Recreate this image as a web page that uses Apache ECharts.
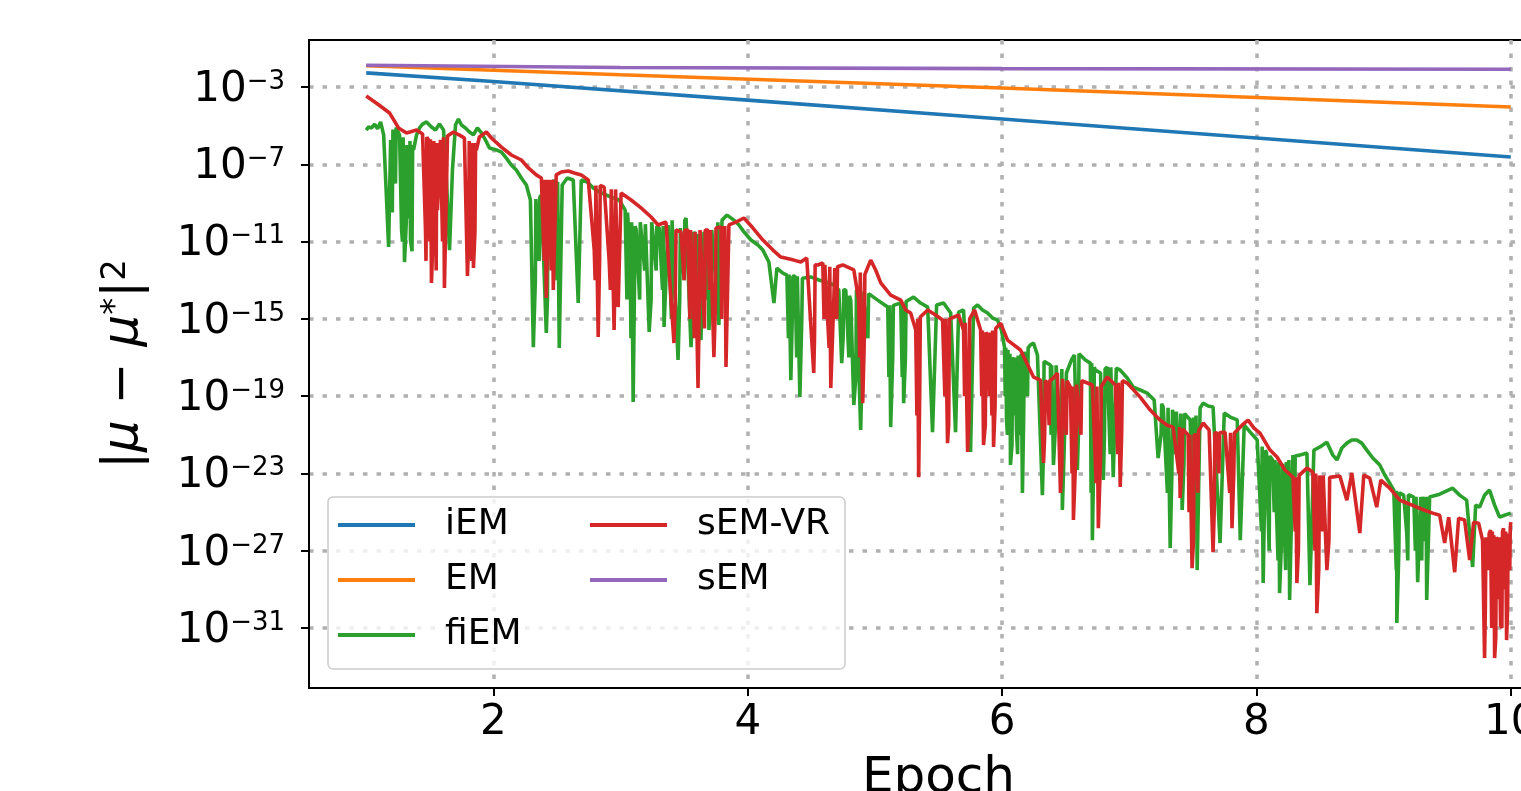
<!DOCTYPE html>
<html><head><meta charset="utf-8">
<script src="https://cdn.jsdelivr.net/npm/echarts@6/dist/echarts.min.js"></script>
<style>html,body{margin:0;padding:0;background:#fff}#c{width:1521px;height:791px}</style>
</head><body><div id="c"></div>
<script>
// ---- data (y values are log10 of |mu - mu*|^2) ----
const seriesNames = ['iEM', 'EM', 'fiEM', 'sEM-VR', 'sEM'];
const seriesColors = ['#1f77b4', '#ff7f0e', '#2ca02c', '#d62728', '#9467bd'];
const xTicks = [2, 4, 6, 8, 10];
const yTickExponents = [-31, -27, -23, -19, -15, -11, -7, -3];

const iEM = [[1, -2.27], [2, -2.72], [4, -3.68], [6, -4.66], [8, -5.64], [10, -6.62]];
const EM = [[1, -1.90], [3, -2.37], [6, -3.05], [10, -4.04]];
const sEM = [[1, -1.88], [3, -1.99], [6, -2.05], [10, -2.08]];

const sEMVR = [
[1.000,-3.47],[1.089,-3.88],[1.184,-4.35],[1.254,-5.12],[1.317,-5.38],[1.396,-5.23],[1.443,-5.43],[1.466,-10.40],[1.490,-5.74],[1.513,-13.14],
[1.537,-6.26],[1.560,-9.37],[1.584,-5.74],[1.615,-13.40],[1.639,-5.54],[1.686,-5.33],[1.733,-5.49],[1.772,-5.64],[1.796,-12.78],[1.819,-5.74],
[1.843,-12.37],[1.866,-6.26],[1.890,-5.59],[1.945,-5.33],[1.984,-5.64],[2.063,-6.11],[2.141,-6.52],[2.220,-6.78],[2.275,-7.19],[2.337,-7.55],
[2.377,-7.71],[2.416,-13.92],[2.440,-7.81],[2.471,-13.51],[2.494,-7.55],[2.534,-7.40],[2.589,-7.35],[2.636,-7.45],[2.691,-7.55],[2.746,-7.81],
[2.793,-11.44],[2.824,-15.94],[2.848,-8.07],[2.871,-8.18],[2.910,-11.96],[2.949,-15.58],[2.965,-8.33],[2.981,-14.39],[3.004,-8.49],[3.083,-8.85],
[3.161,-9.26],[3.240,-9.73],[3.295,-10.14],[3.357,-9.99],[3.420,-16.25],[3.444,-10.30],[3.475,-10.50],[3.530,-10.40],[3.569,-12.99],[3.609,-18.58],
[3.632,-10.50],[3.687,-10.40],[3.734,-16.98],[3.758,-10.30],[3.789,-10.25],[3.829,-17.49],[3.852,-10.14],[3.907,-9.99],[3.970,-9.78],[4.041,-10.30],
[4.119,-10.92],[4.198,-11.44],[4.260,-11.80],[4.362,-11.96],[4.417,-12.06],[4.464,-11.85],[4.519,-17.80],[4.551,-12.21],[4.590,-12.11],[4.653,-18.58],
[4.685,-12.37],[4.747,-12.21],[4.834,-12.47],[4.873,-14.03],[4.904,-19.36],[4.936,-12.73],[4.967,-11.96],[5.006,-12.47],[5.046,-13.14],[5.124,-13.77],
[5.203,-14.03],[5.242,-14.54],[5.281,-14.70],[5.321,-15.58],[5.344,-23.19],[5.368,-14.80],[5.415,-14.54],[5.477,-14.80],[5.532,-15.06],[5.571,-21.43],
[5.603,-14.96],[5.658,-14.80],[5.697,-15.58],[5.729,-21.89],[5.752,-14.96],[5.784,-14.54],[5.831,-15.58],[5.854,-21.53],[5.886,-15.84],[5.933,-21.63],
[5.964,-15.58],[5.988,-15.22],[6.043,-16.10],[6.145,-16.61],[6.247,-18.01],[6.302,-18.17],[6.326,-22.46],[6.357,-18.32],[6.404,-18.06],[6.435,-17.80],
[6.459,-24.01],[6.490,-18.06],[6.537,-18.53],[6.561,-25.41],[6.592,-18.42],[6.639,-18.17],[6.710,-18.42],[6.757,-25.83],[6.788,-18.53],[6.827,-18.01],
[6.890,-18.42],[6.929,-23.70],[6.953,-18.17],[6.984,-18.32],[7.086,-19.05],[7.165,-19.72],[7.243,-20.24],[7.298,-20.50],[7.345,-20.60],[7.400,-24.27],
[7.424,-20.75],[7.463,-21.01],[7.494,-27.90],[7.526,-21.01],[7.581,-20.39],[7.628,-20.75],[7.659,-27.07],[7.691,-20.91],[7.753,-20.86],[7.808,-25.83],
[7.840,-20.86],[7.887,-20.50],[7.934,-20.24],[7.981,-20.65],[8.028,-20.91],[8.107,-21.79],[8.162,-22.15],[8.224,-22.82],[8.287,-23.19],[8.318,-28.67],
[8.350,-23.08],[8.397,-22.72],[8.444,-22.93],[8.475,-30.23],[8.507,-23.13],[8.554,-28.00],[8.585,-23.24],[8.656,-23.13],[8.711,-24.38],[8.750,-22.98],
[8.813,-26.08],[8.844,-23.08],[8.891,-23.24],[8.946,-24.74],[8.978,-23.34],[9.048,-23.76],[9.127,-24.38],[9.205,-24.59],[9.260,-24.74],[9.323,-24.90],
[9.386,-25.05],[9.441,-25.16],[9.480,-26.60],[9.512,-25.26],[9.559,-28.11],[9.590,-25.31],[9.637,-25.41],[9.677,-27.48],[9.708,-25.52],[9.747,-25.57],
[9.778,-26.45],[9.794,-32.55],[9.818,-26.29],[9.841,-25.93],[9.873,-32.55],[9.896,-26.45],[9.920,-30.85],[9.943,-25.83],[9.967,-31.62],[9.982,-26.19],
[10.000,-25.52]
];

// extra dips (dip, then back to the envelope)
const sEMVRDips = [
[1.470,-12.0],[1.476,-5.6],[1.500,-11.0],[1.505,-5.7],[1.527,-10.2],[1.531,-5.8],[1.550,-12.5],[1.555,-5.9],[1.600,-11.0],[1.607,-5.6],
[1.805,-11.0],[1.810,-5.8],[1.830,-12.0],[1.836,-5.9],[1.855,-10.5],[1.860,-5.9],
[2.400,-12.0],[2.405,-7.8],[2.428,-10.0],[2.433,-7.8],[2.455,-12.5],[2.462,-7.8],
[2.800,-13.0],[2.806,-8.1],[2.835,-12.0],[2.840,-8.1],[2.920,-13.5],[2.927,-8.3],[2.957,-12.5],[2.961,-8.3],
[3.430,-14.0],[3.436,-10.4],[3.500,-13.0],[3.506,-10.4],[3.545,-15.0],[3.550,-10.4],[3.580,-16.0],[3.586,-10.5],[3.620,-14.0],[3.625,-10.4],
[3.660,-15.5],[3.666,-10.4],[3.700,-13.5],[3.706,-10.4],[3.745,-14.5],[3.750,-10.3],[3.795,-15.0],[3.800,-10.2],[3.815,-13.0],[3.820,-10.2],
[4.525,-16.0],[4.530,-12.2],[4.600,-15.0],[4.606,-12.2],[4.640,-16.5],[4.645,-12.3],[4.700,-15.0],[4.706,-12.3],[4.880,-17.0],[4.885,-12.6],
[4.915,-16.5],[4.921,-12.7],
[5.330,-20.0],[5.336,-15.0],[5.352,-19.0],[5.357,-14.9],[5.550,-19.0],[5.556,-15.0],[5.580,-20.5],[5.586,-15.0],[5.705,-19.0],[5.711,-15.2],
[5.740,-20.0],[5.745,-15.0],[5.840,-19.0],[5.845,-15.6],[5.868,-20.5],[5.873,-15.7],[5.900,-19.0],[5.906,-15.7],[5.920,-20.0],[5.925,-15.6],
[5.945,-19.5],[5.950,-15.5],
[6.335,-21.0],[6.340,-18.2],[6.370,-20.5],[6.375,-18.2],[6.470,-22.5],[6.475,-18.1],[6.505,-21.0],[6.511,-18.2],[6.550,-23.0],[6.555,-18.5],
[6.580,-22.0],[6.586,-18.4],[6.620,-21.0],[6.626,-18.2],[6.740,-23.5],[6.746,-18.5],[6.775,-22.0],[6.780,-18.5],[6.910,-22.0],[6.916,-18.3],
[6.940,-21.0],[6.946,-18.2],
[7.390,-23.0],[7.395,-20.6],[7.415,-22.5],[7.420,-20.7],[7.470,-25.0],[7.476,-21.0],[7.505,-26.5],[7.510,-21.0],[7.540,-24.0],[7.545,-20.8],
[7.668,-25.0],[7.673,-20.9],[7.705,-23.0],[7.710,-20.9],[7.790,-24.0],[7.796,-20.9],[7.822,-23.0],[7.827,-20.9],
[8.305,-26.0],[8.310,-23.2],[8.330,-27.0],[8.336,-23.1],[8.460,-27.0],[8.466,-23.0],[8.490,-28.0],[8.496,-23.1],[8.520,-26.0],[8.525,-23.1],
[8.570,-26.5],[8.576,-23.2],
[9.800,-30.0],[9.805,-26.3],[9.825,-28.0],[9.830,-26.1],[9.850,-31.0],[9.855,-26.0],[9.862,-29.0],[9.867,-26.2],[9.882,-31.5],[9.887,-26.3],
[9.905,-29.5],[9.910,-26.3],[9.930,-31.0],[9.935,-26.0],[9.955,-29.0],[9.960,-26.0],[9.975,-30.0],[9.979,-26.1],[9.992,-28.0],[9.996,-25.8]
];

const fiEM = [
[1.000,-5.23],[1.019,-5.07],[1.042,-5.12],[1.066,-4.92],[1.089,-5.17],[1.113,-4.81],[1.137,-5.48],[1.160,-8.85],[1.176,-11.28],[1.192,-5.74],
[1.215,-5.12],[1.239,-5.02],[1.262,-5.48],[1.278,-10.40],[1.301,-12.06],[1.325,-8.85],[1.348,-10.92],[1.372,-6.26],[1.396,-5.48],[1.419,-5.12],
[1.443,-4.92],[1.474,-4.81],[1.513,-5.07],[1.545,-5.23],[1.576,-4.92],[1.608,-5.23],[1.631,-7.81],[1.655,-11.44],[1.678,-7.30],[1.702,-4.97],
[1.725,-4.66],[1.749,-4.97],[1.780,-5.12],[1.812,-5.33],[1.843,-5.48],[1.874,-5.12],[1.906,-5.38],[1.937,-5.74],[1.969,-6.16],[2.024,-6.26],
[2.063,-6.37],[2.102,-6.68],[2.141,-7.04],[2.180,-7.30],[2.220,-7.71],[2.259,-8.07],[2.291,-8.85],[2.314,-16.46],[2.337,-8.85],[2.377,-8.59],
[2.416,-15.73],[2.440,-8.33],[2.479,-7.81],[2.518,-16.51],[2.541,-8.07],[2.581,-7.71],[2.628,-7.81],[2.667,-14.18],[2.691,-7.81],[2.738,-7.92],
[2.785,-8.23],[2.832,-8.43],[2.887,-8.59],[2.942,-8.74],[2.989,-8.85],[3.036,-9.37],[3.075,-11.96],[3.099,-19.30],[3.123,-10.40],[3.161,-9.99],
[3.201,-10.14],[3.225,-15.68],[3.257,-9.99],[3.304,-10.30],[3.342,-15.42],[3.374,-10.14],[3.413,-9.89],[3.452,-17.13],[3.484,-10.40],[3.515,-9.78],
[3.554,-16.46],[3.589,-10.66],[3.632,-16.10],[3.656,-10.50],[3.695,-15.58],[3.726,-10.40],[3.773,-15.32],[3.798,-9.89],[3.837,-9.63],[3.891,-9.89],
[3.931,-10.14],[3.970,-10.50],[4.025,-10.92],[4.080,-11.18],[4.119,-11.44],[4.166,-12.06],[4.206,-14.18],[4.229,-12.37],[4.276,-12.63],[4.308,-12.73],
[4.339,-18.17],[4.372,-12.78],[4.410,-19.04],[4.441,-12.88],[4.496,-12.83],[4.559,-12.99],[4.614,-13.09],[4.677,-13.25],[4.716,-13.51],[4.739,-17.29],
[4.771,-13.51],[4.810,-14.03],[4.834,-19.46],[4.865,-13.51],[4.888,-20.75],[4.920,-13.61],[4.967,-13.77],[5.022,-14.03],[5.077,-14.28],[5.101,-14.39],
[5.124,-20.60],[5.155,-14.28],[5.203,-14.18],[5.226,-19.36],[5.257,-14.03],[5.304,-13.87],[5.359,-14.18],[5.415,-14.39],[5.453,-20.86],[5.485,-14.28],
[5.540,-14.18],[5.596,-14.70],[5.634,-20.86],[5.658,-14.65],[5.697,-14.54],[5.752,-21.89],[5.776,-14.44],[5.807,-14.28],[5.846,-14.54],[5.886,-14.70],
[5.925,-14.96],[5.964,-15.06],[5.995,-15.58],[6.019,-16.46],[6.035,-20.23],[6.050,-16.61],[6.066,-22.56],[6.090,-17.13],[6.113,-20.75],[6.137,-16.87],
[6.160,-24.01],[6.184,-16.61],[6.223,-16.35],[6.247,-16.25],[6.278,-16.87],[6.317,-24.12],[6.341,-17.23],[6.380,-17.39],[6.404,-22.56],[6.435,-17.49],
[6.474,-24.89],[6.506,-17.80],[6.545,-17.13],[6.569,-16.87],[6.592,-22.82],[6.616,-16.77],[6.655,-17.13],[6.694,-17.29],[6.710,-26.45],[6.734,-17.65],
[6.774,-17.80],[6.796,-23.34],[6.827,-17.49],[6.874,-23.19],[6.898,-17.54],[6.929,-17.65],[6.984,-18.06],[7.031,-18.53],[7.086,-18.68],[7.141,-18.84],
[7.196,-19.20],[7.227,-22.20],[7.267,-19.56],[7.322,-26.86],[7.353,-19.72],[7.377,-19.87],[7.416,-24.89],[7.447,-19.98],[7.479,-20.23],[7.534,-28.00],
[7.557,-19.61],[7.581,-19.36],[7.620,-19.51],[7.659,-19.56],[7.714,-26.60],[7.747,-19.87],[7.794,-20.08],[7.849,-20.23],[7.873,-26.45],[7.904,-20.50],
[7.951,-20.86],[8.006,-21.27],[8.053,-28.67],[8.080,-21.94],[8.127,-22.30],[8.182,-29.19],[8.214,-22.56],[8.261,-29.55],[8.287,-22.05],[8.342,-22.05],
[8.397,-21.94],[8.421,-28.78],[8.452,-21.79],[8.499,-21.63],[8.554,-21.38],[8.601,-22.05],[8.633,-22.30],[8.672,-21.68],[8.711,-21.43],[8.750,-21.27],
[8.789,-21.27],[8.828,-21.43],[8.868,-21.79],[8.915,-22.20],[8.970,-22.56],[9.009,-23.08],[9.048,-23.50],[9.080,-23.86],[9.104,-30.74],[9.127,-24.01],
[9.158,-24.12],[9.182,-26.08],[9.205,-24.12],[9.237,-24.22],[9.268,-28.62],[9.292,-24.22],[9.339,-29.55],[9.362,-24.22],[9.441,-24.07],[9.543,-23.76],
[9.598,-24.12],[9.653,-24.38],[9.700,-27.84],[9.724,-24.64],[9.755,-24.74],[9.794,-24.12],[9.833,-23.86],[9.873,-24.64],[9.912,-25.26],[9.951,-25.16],
[10.000,-25.05]
];

// extra dips (dip, then back to the envelope)
const fiEMDips = [
[1.205,-9.5],[1.210,-5.2],[1.230,-8.0],[1.235,-5.1],[1.285,-11.0],[1.290,-5.6],[1.315,-10.0],[1.320,-6.0],[1.340,-9.8],[1.344,-5.8],
[1.360,-11.5],[1.365,-6.0],
[2.330,-13.0],[2.334,-8.8],[2.360,-12.0],[2.365,-8.7],[2.425,-14.0],[2.430,-8.4],[2.500,-13.0],[2.505,-7.9],
[3.050,-14.0],[3.055,-9.5],[3.082,-16.0],[3.087,-10.0],[3.110,-13.0],[3.115,-10.2],[3.150,-14.0],[3.155,-10.0],[3.190,-12.5],[3.195,-10.1],
[3.240,-14.0],[3.245,-10.0],[3.280,-12.5],[3.285,-10.2],[3.330,-13.5],[3.335,-10.2],[3.400,-15.0],[3.405,-9.9],[3.465,-14.0],[3.470,-10.3],
[3.500,-13.0],[3.505,-9.9],[3.570,-14.5],[3.575,-10.5],[3.605,-15.0],[3.610,-10.6],[3.680,-14.0],[3.685,-10.5],[3.712,-13.0],[3.717,-10.4],
[3.760,-14.0],[3.765,-10.0],
[4.320,-16.0],[4.325,-12.7],[4.350,-15.0],[4.355,-12.8],[4.385,-17.0],[4.390,-12.8],[4.425,-15.0],[4.430,-12.9],
[4.750,-16.0],[4.755,-13.5],[4.795,-17.0],[4.800,-13.8],[4.850,-18.0],[4.855,-13.5],[4.900,-17.5],[4.905,-13.6],[4.945,-16.0],[4.950,-13.7],
[5.110,-18.0],[5.115,-14.3],[5.140,-17.0],[5.145,-14.3],[5.215,-18.0],[5.220,-14.2],[5.240,-17.0],[5.245,-14.1],
[6.025,-19.0],[6.029,-16.5],[6.042,-21.0],[6.046,-16.6],[6.058,-19.5],[6.062,-16.8],[6.078,-21.5],[6.082,-17.0],[6.100,-20.0],[6.105,-17.0],
[6.122,-22.0],[6.127,-16.9],[6.145,-21.0],[6.150,-16.8],[6.170,-20.0],[6.175,-16.7],[6.200,-19.0],[6.205,-16.5],
[6.325,-22.0],[6.330,-17.2],[6.385,-21.0],[6.390,-17.4],[6.420,-20.5],[6.425,-17.4],[6.465,-22.0],[6.470,-17.6],[6.600,-21.0],[6.605,-16.8],
[6.700,-24.0],[6.705,-17.3],[6.720,-22.5],[6.725,-17.5],[6.805,-21.0],[6.810,-17.6],[6.850,-22.0],[6.855,-17.5],
[7.250,-21.0],[7.255,-19.4],[7.300,-24.0],[7.305,-19.6],[7.335,-23.0],[7.340,-19.7],[7.365,-22.0],[7.370,-19.8],[7.400,-23.5],[7.405,-19.9],
[7.430,-22.5],[7.435,-19.9],[7.500,-25.0],[7.505,-20.1],[7.520,-26.0],[7.525,-20.0],
[8.040,-26.0],[8.045,-21.6],[8.065,-24.0],[8.070,-21.8],[8.100,-27.0],[8.105,-22.1],[8.140,-25.0],[8.145,-22.3],[8.170,-27.5],[8.175,-22.4],
[8.200,-26.0],[8.205,-22.5],[8.230,-28.0],[8.235,-22.4],[8.250,-27.0],[8.255,-22.3],[8.300,-25.0],[8.305,-22.1],
[9.100,-28.0],[9.102,-23.9],[9.120,-27.0],[9.124,-24.0],[9.190,-27.5],[9.195,-24.1],[9.250,-27.0],[9.255,-24.2],[9.300,-27.5],[9.305,-24.2],
[9.330,-26.5],[9.334,-24.2]
];

const byEpoch = (a, b) => a[0] - b[0];
const seriesData = [
  iEM,
  EM,
  fiEM.concat(fiEMDips).sort(byEpoch),
  sEMVR.concat(sEMVRDips).sort(byEpoch),
  sEM
];

// ---- chart ----
const FONT = 'DejaVu Sans';
const chart = echarts.init(document.getElementById('c'), null, {renderer: 'canvas'});
const gridLine = {show: true, lineStyle: {color: '#b0b0b0', width: 3.5, type: [4.5, 9]}};

chart.setOption({
  animation: false,
  backgroundColor: '#ffffff',
  textStyle: {fontFamily: FONT},
  grid: {
    left: 309, top: 40, width: 1259, height: 648,
    containLabel: false, outerBoundsMode: 'none',
    show: true, borderColor: '#000', borderWidth: 2, backgroundColor: 'transparent'
  },
  legend: {
    data: seriesNames,
    orient: 'vertical',
    left: 328, top: 497,
    height: 170,
    itemGap: 5,
    itemWidth: 77, itemHeight: 4,
    icon: 'rect',
    padding: [3, 8, 9, 10],
    backgroundColor: 'rgba(255,255,255,0.8)',
    borderColor: '#cccccc', borderWidth: 1.5, borderRadius: 5,
    textStyle: {fontFamily: FONT, fontSize: 36, color: '#000', lineHeight: 50, width: 140, padding: [0, 0, 0, 25]}
  },
  xAxis: {
    type: 'value', min: 0.55, max: 10.45,
    name: 'Epoch', nameLocation: 'middle', nameGap: 66,
    nameTextStyle: {fontFamily: FONT, fontSize: 50, lineHeight: 50, color: '#000'},
    axisLine: {show: true, onZero: false, lineStyle: {color: '#000', width: 2}},
    axisTick: {show: true, inside: false, length: 8, lineStyle: {color: '#000', width: 2}, customValues: xTicks},
    axisLabel: {fontFamily: FONT, fontSize: 42, lineHeight: 42, color: '#000', margin: 14, customValues: xTicks},
    splitLine: gridLine
  },
  yAxis: {
    type: 'value', min: -34.1, max: -0.57,
    name: '{n||}{m|\u03bc}{n| \u2212 }{m|\u03bc}{s|*}{n||}{s|2}',
    nameLocation: 'middle', nameRotate: 90, nameGap: 160,
    nameTextStyle: {
      fontFamily: FONT, fontSize: 50, color: '#000',
      rich: {
        n: {fontFamily: FONT, fontSize: 50, lineHeight: 50, color: '#000', verticalAlign: 'bottom'},
        m: {fontFamily: FONT, fontSize: 50, lineHeight: 50, color: '#000', fontStyle: 'italic', verticalAlign: 'bottom'},
        s: {fontFamily: FONT, fontSize: 34, lineHeight: 34, color: '#000', padding: [0, 0, 26, 0], verticalAlign: 'top'}
      }
    },
    axisLine: {show: true, onZero: false, lineStyle: {color: '#000', width: 2}},
    axisTick: {show: true, inside: false, length: 8, lineStyle: {color: '#000', width: 2}, customValues: yTickExponents},
    axisLabel: {
      margin: 24, padding: [6, 0, 0, 0],
      customValues: yTickExponents,
      formatter: v => '{b|10}{s|\u2212' + Math.abs(Math.round(v)) + '}',
      rich: {
        b: {fontFamily: FONT, fontSize: 42, lineHeight: 42, color: '#000', verticalAlign: 'bottom'},
        s: {fontFamily: FONT, fontSize: 26, lineHeight: 26, color: '#000', padding: [0, 0, 17, 0], verticalAlign: 'top'}
      }
    },
    splitLine: gridLine
  },
  series: seriesNames.map((name, i) => ({
    name: name,
    type: 'line',
    data: seriesData[i],
    color: seriesColors[i],
    showSymbol: false,
    symbol: 'none',
    sampling: false,
    clip: true,
    lineStyle: {width: 3.6, color: seriesColors[i]},
    itemStyle: {color: seriesColors[i]}
  }))
});
</script>
</body></html>
